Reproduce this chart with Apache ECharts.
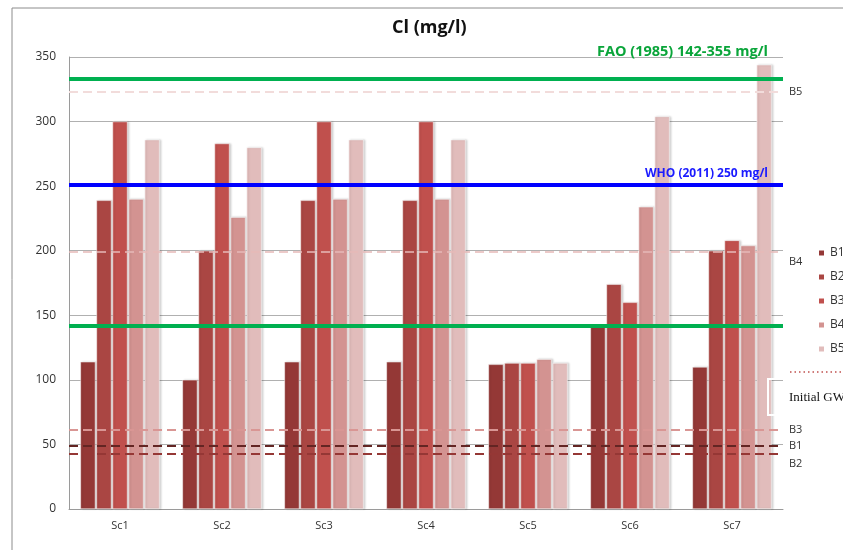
<!DOCTYPE html>
<html>
<head>
<meta charset="utf-8">
<title>Cl (mg/l)</title>
<script src="https://cdn.jsdelivr.net/npm/echarts@6/dist/echarts.min.js"></script>
<style>
  html, body { margin: 0; padding: 0; background: #ffffff; }
  #chart { width: 843px; height: 550px; }
</style>
</head>
<body>
<div id="chart"></div>
<script>
// Scenarios on the category axis
const scenarios = ['Sc1', 'Sc2', 'Sc3', 'Sc4', 'Sc5', 'Sc6', 'Sc7'];

// Chloride concentration (mg/l) per borehole and scenario
const b1 = [114, 100, 114, 114, 112, 142, 110];
const b2 = [239, 200, 239, 239, 113, 174, 200];
const b3 = [300, 283, 300, 300, 113, 160, 208];
const b4 = [240, 226, 240, 240, 116, 234, 204];
const b5 = [286, 280, 286, 286, 113, 304, 344];

// Initial groundwater chloride per borehole (mg/l)
const initialNames = ['B1', 'B2', 'B3', 'B4', 'B5'];
const initialValues = [49, 43, 61, 199, 323];

// Guideline limits (mg/l)
const faoRange = [142, 333];
const whoLimit = 251;

const yTicks = { min: 0, max: 350, interval: 50 };

const barColors = ['#943836', '#aa4643', '#c0504d', '#d39391', '#e1bcbb'];
const initialLineColors = ['#632523', '#953735', '#d99694', '#e6b9b8', '#f2dcdb'];
// labels for B2 and B4 sit just below their lines
const labelBelow = [false, true, false, true, false];

const chart = echarts.init(document.getElementById('chart'));

const barSeries = [b1, b2, b3, b4, b5].map((vals, i) => ({
  name: 'B' + (i + 1),
  type: 'bar',
  data: vals,
  barWidth: 15,
  barGap: '7%',
  itemStyle: {
    color: barColors[i],
    borderColor: '#ffffff',
    borderWidth: 0.5,
    shadowColor: 'rgba(0,0,0,0.18)',
    shadowBlur: 2,
    shadowOffsetX: 1.5
  },
  emphasis: { disabled: true }
}));

const initialLines = initialValues.map((v, i) => ({
  yAxis: v,
  lineStyle: {
    color: initialLineColors[i],
    type: [9, 5],
    width: i === 3 ? 1.5 : 2.2
  },
  label: {
    show: true,
    position: 'end',
    distance: 6,
    formatter: labelBelow[i] ? '\n' + initialNames[i] : initialNames[i],
    lineHeight: 20,
    color: '#333333',
    fontSize: 11,
    fontFamily: 'Open Sans'
  }
}));

const limitLines = [
  {
    yAxis: faoRange[1],
    lineStyle: { color: '#00b050', width: 4, type: 'solid' },
    label: {
      show: true,
      position: 'insideEndTop',
      distance: [15, 20],
      formatter: 'FAO (1985) 142-355 mg/l',
      color: '#0aa53a',
      fontWeight: 'bold',
      fontSize: 14.5,
      fontFamily: 'Open Sans'
    }
  },
  {
    yAxis: faoRange[0],
    lineStyle: { color: '#00b050', width: 4, type: 'solid' },
    label: { show: false }
  },
  {
    yAxis: whoLimit,
    lineStyle: { color: '#0000ff', width: 4, type: 'solid' },
    label: {
      show: true,
      position: 'insideEndTop',
      distance: [15, 5],
      formatter: 'WHO (2011) 250 mg/l',
      color: '#1a1aff',
      fontWeight: 'bold',
      fontSize: 12,
      fontFamily: 'Open Sans'
    }
  }
];

const option = {
  backgroundColor: '#ffffff',
  animation: false,
  title: {
    text: 'Cl (mg/l)',
    left: 392,
    top: 19,
    padding: 0,
    textStyle: { fontFamily: 'Open Sans', fontWeight: 'bold', fontSize: 18, color: '#111111' }
  },
  legend: {
    data: ['B1', 'B2', 'B3', 'B4', 'B5'],
    orient: 'vertical',
    left: 817,
    top: 245,
    padding: 0,
    icon: 'rect',
    itemWidth: 7,
    itemHeight: 7,
    itemGap: 8,
    textStyle: { fontFamily: 'Open Sans', fontSize: 12, color: '#333333', lineHeight: 16 }
  },
  grid: { left: 69, right: 60, top: 57, bottom: 41, containLabel: false },
  xAxis: {
    type: 'category',
    data: scenarios,
    axisLine: { lineStyle: { color: '#9a9a9a', width: 1 } },
    axisTick: { show: false },
    axisLabel: { color: '#333333', fontSize: 11, fontFamily: 'Open Sans', margin: 11 },
    splitLine: { show: false }
  },
  yAxis: {
    type: 'value',
    min: yTicks.min,
    max: yTicks.max,
    interval: yTicks.interval,
    axisLine: { show: true, lineStyle: { color: '#9a9a9a', width: 1 } },
    axisTick: { show: false },
    axisLabel: { color: '#333333', fontSize: 12, fontFamily: 'Open Sans', margin: 13 },
    splitLine: { show: true, lineStyle: { color: '#b0b0b0', width: 1 } }
  },
  series: barSeries.concat([{
    name: 'limits',
    type: 'line',
    data: [],
    z: 5,
    silent: true,
    markLine: {
      symbol: ['none', 'none'],
      silent: true,
      animation: false,
      emphasis: { disabled: true },
      data: initialLines.concat(limitLines)
    }
  }]),
  graphic: [
    {
      type: 'rect',
      shape: { x: 12, y: 8, width: 900, height: 600 },
      style: { fill: 'none', stroke: '#8c8c8c', lineWidth: 1 },
      silent: true
    },
    {
      type: 'rect',
      shape: { x: 768, y: 379, width: 120, height: 36 },
      style: { fill: 'none', stroke: '#ffffff', lineWidth: 2 },
      z: 10,
      silent: true
    },
    {
      type: 'line',
      shape: { x1: 790, y1: 372, x2: 843, y2: 372 },
      style: { stroke: '#c0504d', lineWidth: 1.5, lineDash: [1.5, 3] },
      silent: true
    },
    {
      type: 'text',
      x: 789,
      y: 391,
      style: { text: 'Initial GW', font: '13px "Liberation Serif"', fill: '#111111' },
      silent: true
    }
  ]
};

chart.setOption(option);
</script>
</body>
</html>
